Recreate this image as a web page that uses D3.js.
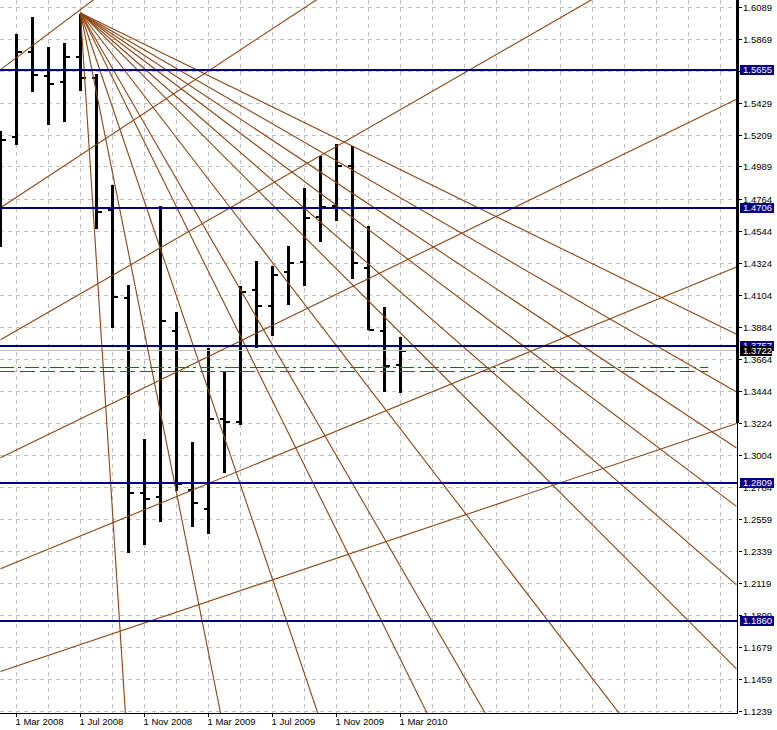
<!DOCTYPE html>
<html><head><meta charset="utf-8">
<script src="https://cdn.jsdelivr.net/npm/d3@7"></script>
<style>
html,body{margin:0;padding:0;background:#fff;}
svg{display:block;}
text{font-family:"Liberation Sans",Arial,sans-serif;font-size:9.5px;}
line,rect{shape-rendering:crispEdges;}
g.fan line{shape-rendering:auto;}
</style>
</head><body>
<svg id="c" width="777" height="730"></svg>
<script>
// ---- data (EUR/USD monthly bars) ----
const months = ["2008-02","2008-03","2008-04","2008-05","2008-06","2008-07","2008-08","2008-09","2008-10","2008-11","2008-12",
  "2009-01","2009-02","2009-03","2009-04","2009-05","2009-06","2009-07","2009-08","2009-09","2009-10","2009-11","2009-12",
  "2010-01","2010-02","2010-03"];
const openP  = [1.4862,1.5198,1.5783,1.5618,1.5572,1.5747,1.5600,1.4693,1.4088,1.2745,1.2717,
  1.3861,1.2764,1.2633,1.3251,1.3234,1.4143,1.4031,1.4268,1.4337,1.4646,1.4720,1.4998,1.4295,1.3861,1.3625];
const highP  = [1.5237,1.5907,1.6024,1.5816,1.5843,1.6040,1.5627,1.4865,1.4176,1.3115,1.4720,
  1.3992,1.3096,1.3744,1.3583,1.4169,1.4341,1.4307,1.4445,1.4842,1.5067,1.5147,1.5136,1.4582,1.4022,1.3816];
const lowP   = [1.4438,1.5140,1.5508,1.5280,1.5301,1.5514,1.4564,1.3878,1.2328,1.2385,1.2545,
  1.2759,1.2511,1.2458,1.2883,1.3211,1.3744,1.3825,1.4040,1.4171,1.4474,1.4619,1.4215,1.3866,1.3441,1.3434];
const closeP = [1.5177,1.5783,1.5623,1.5561,1.5747,1.5604,1.4677,1.4095,1.2745,1.2702,1.3930,
  1.2805,1.2676,1.3251,1.3234,1.4130,1.4031,1.4247,1.4330,1.4640,1.4715,1.4998,1.4330,1.3866,1.3618,1.3722];

const priceTicks = ["1.6089","1.5869","1.5649","1.5429","1.5209","1.4989","1.4764","1.4544","1.4324","1.4104","1.3884",
  "1.3664","1.3444","1.3224","1.3004","1.2784","1.2559","1.2339","1.2119","1.1899","1.1679","1.1459","1.1239"];
const dateTicks = ["2008-03","2008-07","2008-11","2009-03","2009-07","2009-11","2010-03"];

const levels = [1.5655,1.4706,1.3757,1.2809,1.1860];      // horizontal lines (blue)
const currentPrice = 1.3722;
const dashLevels = [1.3609,1.3583];                      // green dash-dot lines
const dashStyles = ["14,4,3,4","15,5"];
const dashEndIndex = 44.2;

// descending fan from the July 2008 high
const fanOriginMonth = "2008-07";
const fanOriginPrice = 1.6050;
const fanRates = [0.17195,0.05511,0.03252,0.02227,0.01907,0.01433,0.01102,0.00961,0.00829,0.00731,0.00637,0.00540]; // price per month

// rising lines: price at Feb 2008 and at Dec 2011
const riseStart = [1.5660,1.4708,1.3799,1.2985,1.2221,1.1513];
const riseEnd   = [1.9463,1.8045,1.6715,1.5455,1.4300,1.3222];
const thickAxisBottom = 1.3224;

// ---- scales ----
const W = 777, H = 730, plotR = 737, plotB = 713;
const parse = d3.timeParse("%Y-%m");
const t0 = parse(months[0]);
const idx = m => d3.timeMonth.count(t0, parse(m));
const x = d3.scaleLinear().domain([0,46]).range([0.5,736.5]);
const y = d3.scaleLinear().domain([1.1239,1.6089]).range([711.3,7.3]);
const fmtDate = d3.timeFormat("%-d %b %Y");
const crisp = v => Math.floor(v)+0.5;

const svg = d3.select("#c");
svg.append("rect").attr("width",W).attr("height",H).attr("fill","#fff");
svg.append("clipPath").attr("id","clip").append("rect").attr("x",0).attr("y",0).attr("width",plotR).attr("height",plotB);

const grid = svg.append("g").attr("stroke","#c0c0c0").attr("stroke-dasharray","4,4").attr("stroke-width",1);
d3.range(1,46,2).forEach(i=>{
  grid.append("line").attr("x1",crisp(x(i))).attr("x2",crisp(x(i))).attr("y1",0).attr("y2",plotB);
});
priceTicks.forEach(t=>{
  const yy = crisp(y(+t));
  grid.append("line").attr("x1",0).attr("x2",plotR).attr("y1",yy).attr("y2",yy);
});

const plot = svg.append("g").attr("clip-path","url(#clip)");

// bars
const bars = plot.append("g").attr("stroke","#000");
months.forEach((m,i)=>{
  const cx = x(idx(m));
  bars.append("line").attr("x1",cx).attr("x2",cx).attr("y1",Math.round(y(highP[i]))).attr("y2",Math.round(y(lowP[i]))).attr("stroke-width",3);
  const yo = Math.round(y(openP[i])), yc = Math.round(y(closeP[i]));
  bars.append("line").attr("x1",cx-5).attr("x2",cx).attr("y1",yo).attr("y2",yo).attr("stroke-width",2);
  bars.append("line").attr("x1",cx).attr("x2",cx+5).attr("y1",yc).attr("y2",yc).attr("stroke-width",2);
});

// current price line
plot.append("line").attr("x1",0).attr("x2",plotR).attr("y1",crisp(y(currentPrice))).attr("y2",crisp(y(currentPrice)))
  .attr("stroke","#c0c0c0").attr("stroke-width",1);

// green dashed lines
dashLevels.forEach((p,k)=>{
  plot.append("line").attr("x1",0).attr("x2",x(dashEndIndex)).attr("y1",crisp(y(p))).attr("y2",crisp(y(p)))
    .attr("stroke","#008000").attr("stroke-width",1).attr("stroke-dasharray",dashStyles[k]);
});

// fan lines
const fan = plot.append("g").attr("class","fan").attr("stroke","#8b4513").attr("stroke-width",1.1).attr("fill","none");
const oi = idx(fanOriginMonth);
fanRates.forEach(r=>{
  fan.append("line").attr("x1",x(oi)).attr("y1",y(fanOriginPrice))
    .attr("x2",x(46)).attr("y2",y(fanOriginPrice - r*(46-oi)));
});
riseStart.forEach((p,k)=>{
  fan.append("line").attr("x1",x(0)).attr("y1",y(p)).attr("x2",x(46)).attr("y2",y(riseEnd[k]));
});

// blue levels
levels.forEach(p=>{
  const yy = Math.round(y(p));
  plot.append("line").attr("x1",0).attr("x2",plotR).attr("y1",yy).attr("y2",yy).attr("stroke","#000080").attr("stroke-width",2);
});

// axes
svg.append("line").attr("x1",0).attr("x2",plotR+1).attr("y1",plotB+0.5).attr("y2",plotB+0.5).attr("stroke","#000");
svg.append("line").attr("x1",plotR+0.5).attr("x2",plotR+0.5).attr("y1",0).attr("y2",plotB+1).attr("stroke","#000");
svg.append("line").attr("x1",plotR+0.5).attr("x2",plotR+0.5).attr("y1",0).attr("y2",y(thickAxisBottom)).attr("stroke","#000").attr("stroke-width",3);

priceTicks.forEach(t=>{
  const yy = crisp(y(+t));
  svg.append("line").attr("x1",739).attr("x2",742).attr("y1",yy).attr("y2",yy).attr("stroke","#000");
  svg.append("text").attr("x",743).attr("y",yy).attr("dy","0.35em").attr("fill","#000").text(t);
});
dateTicks.forEach(m=>{
  const xx = crisp(x(idx(m)));
  svg.append("line").attr("x1",xx).attr("x2",xx).attr("y1",plotB).attr("y2",plotB+4).attr("stroke","#000");
  svg.append("text").attr("x",xx-1).attr("y",721.5).attr("dy","0.35em").attr("fill","#000").text(fmtDate(parse(m)));
});

// price labels
levels.forEach(p=>{
  const yy = Math.round(y(p));
  svg.append("rect").attr("x",740).attr("y",yy-5).attr("width",34).attr("height",10).attr("fill","#000080");
  svg.append("text").attr("x",743).attr("y",yy).attr("dy","0.35em").attr("fill","#fff").text(p.toFixed(4));
});
{
  const yy = Math.round(y(currentPrice));
  svg.append("rect").attr("x",740).attr("y",yy-5).attr("width",32).attr("height",10).attr("fill","#000");
  svg.append("text").attr("x",743).attr("y",yy).attr("dy","0.35em").attr("fill","#fff").text(currentPrice.toFixed(4));
}
</script>
</body></html>
